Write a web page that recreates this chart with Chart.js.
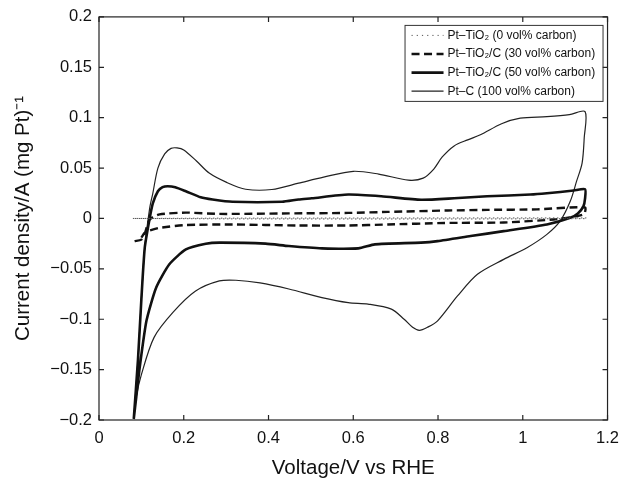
<!DOCTYPE html>
<html>
<head>
<meta charset="utf-8">
<script src="https://cdn.jsdelivr.net/npm/chart.js@4/dist/chart.umd.min.js"></script>
<style>
  html, body { margin: 0; padding: 0; background: #fff; }
  #wrap { width: 628px; height: 481px; }
</style>
</head>
<body>
<div id="wrap"><canvas id="myChart" width="628" height="481"></canvas></div>
<script>
// series labels (legend)
const seriesLabels = [
  'Pt–TiO₂ (0 vol% carbon)',
  'Pt–TiO₂/C (30 vol% carbon)',
  'Pt–TiO₂/C (50 vol% carbon)',
  'Pt–C (100 vol% carbon)',
];

// Pt-TiO2, 0 vol% carbon (dotted)
const pt0V = [0.080, 0.300, 0.600, 0.900, 1.150, 1.150, 0.900, 0.600, 0.300, 0.080];
const pt0I = [0.000, 0.0003, 0.0004, 0.0005, 0.0005, -0.0002, -0.0005, -0.0005, -0.0004, 0.000];

// Pt-TiO2/C, 30 vol% carbon (dashed)
const pt30V = [0.084, 0.100, 0.108, 0.1195, 0.143, 0.205, 0.284, 0.448, 0.588, 0.682, 0.823, 0.916, 1.034, 1.147,
  1.145, 1.125, 1.073, 0.955, 0.815, 0.682, 0.588, 0.471, 0.315, 0.205, 0.143, 0.120, 0.108, 0.100];
const pt30I = [-0.0225, -0.021, -0.015, -0.001, 0.004, 0.0058, 0.0045, 0.005, 0.0055, 0.0065, 0.0079, 0.0085, 0.009, 0.011,
  0.0045, 0.002, -0.001, -0.004, -0.0045, -0.006, -0.007, -0.007, -0.006, -0.0065, -0.0093, -0.012, -0.0142, -0.019];

// Pt-TiO2/C, 50 vol% carbon (thick solid)
const pt50V = [0.082, 0.092, 0.100, 0.108, 0.1195, 0.127, 0.139, 0.150, 0.162, 0.180, 0.205, 0.240, 0.268, 0.315, 0.432,
  0.471, 0.502, 0.588, 0.666, 0.760, 0.838, 0.916, 1.018, 1.057, 1.120, 1.147, 1.147, 1.143, 1.130, 1.112, 1.057, 0.955,
  0.877, 0.799, 0.760, 0.651, 0.612, 0.526, 0.448, 0.393, 0.284, 0.252, 0.205, 0.166, 0.135, 0.112, 0.096, 0.088, 0.082];
const pt50I = [-0.199, -0.140, -0.080, -0.029, 0.000, 0.015, 0.027, 0.031, 0.032, 0.031, 0.027, 0.021, 0.0188, 0.0165, 0.0165,
  0.0188, 0.020, 0.0237, 0.022, 0.0185, 0.020, 0.022, 0.0237, 0.025, 0.0277, 0.029, 0.020, 0.012, 0.005, 0.0006, -0.006, -0.0126,
  -0.0175, -0.0225, -0.024, -0.0257, -0.0297, -0.0297, -0.0274, -0.025, -0.024, -0.0251, -0.0307, -0.0455, -0.0686, -0.1016, -0.148, -0.177, -0.199];

// Pt-C, 100 vol% carbon (thin solid)
const ptcV = [0.082, 0.092, 0.100, 0.108, 0.1195, 0.127, 0.139, 0.155, 0.170, 0.184, 0.200, 0.230, 0.260, 0.300, 0.346, 0.408,
  0.471, 0.530, 0.600, 0.660, 0.730, 0.765, 0.790, 0.810, 0.838, 0.870, 0.900, 0.950, 0.994, 1.057, 1.110, 1.147,
  1.145, 1.140, 1.127, 1.112, 1.088, 1.057, 1.010, 0.955, 0.893, 0.846, 0.799, 0.775, 0.756, 0.740, 0.720, 0.690, 0.635,
  0.588, 0.526, 0.448, 0.380, 0.323, 0.284, 0.228, 0.175, 0.130, 0.100, 0.088, 0.082];
const ptcI = [-0.199, -0.140, -0.080, -0.029, 0.010, 0.025, 0.050, 0.064, 0.0695, 0.070, 0.068, 0.057, 0.045, 0.036, 0.029, 0.0287,
  0.035, 0.041, 0.0468, 0.044, 0.038, 0.040, 0.049, 0.061, 0.072, 0.078, 0.083, 0.094, 0.0995, 0.101, 0.103, 0.106,
  0.080, 0.055, 0.037, 0.017, -0.0027, -0.0158, -0.029, -0.0406, -0.0554, -0.0769, -0.1016, -0.108, -0.111, -0.108, -0.100, -0.090, -0.085,
  -0.0835, -0.0785, -0.070, -0.064, -0.0613, -0.062, -0.072, -0.093, -0.118, -0.155, -0.177, -0.199];

// tick values
const xTicks = [0, 0.2, 0.4, 0.6, 0.8, 1, 1.2];
const yTicks = [-0.2, -0.15, -0.1, -0.05, 0, 0.05, 0.1, 0.15, 0.2];

const pts = (xs, ys) => xs.map((v, i) => ({ x: v, y: ys[i] }));
const FONT = "'Liberation Sans', Arial, Helvetica, sans-serif";
const INK = '#111';

const data = {
  datasets: [
    { label: seriesLabels[0], data: pts(pt0V, pt0I), borderColor: '#555', borderWidth: 1, borderDash: [1.5, 2.5], tension: 0 },
    { label: seriesLabels[1], data: pts(pt30V, pt30I), borderColor: INK, borderWidth: 2.4, borderDash: [8, 4.5], tension: 0.2 },
    { label: seriesLabels[2], data: pts(pt50V, pt50I), borderColor: INK, borderWidth: 2.6, tension: 0.2 },
    { label: seriesLabels[3], data: pts(ptcV, ptcI), borderColor: '#222', borderWidth: 1.2, tension: 0.3 },
  ]
};

// inward ticks on all sides, box frame, and boxed legend inside the plot
const frame = {
  id: 'frame',
  afterDatasetsDraw(chart) {
    const { ctx, chartArea: a, scales: { x, y } } = chart;
    ctx.save();
    ctx.strokeStyle = '#222';
    ctx.lineWidth = 1.2;
    ctx.setLineDash([]);
    ctx.beginPath();
    xTicks.forEach(v => {
      const px = x.getPixelForValue(v);
      ctx.moveTo(px, a.bottom); ctx.lineTo(px, a.bottom - 5);
      ctx.moveTo(px, a.top); ctx.lineTo(px, a.top + 5);
    });
    yTicks.forEach(v => {
      const py = y.getPixelForValue(v);
      ctx.moveTo(a.left, py); ctx.lineTo(a.left + 5, py);
      ctx.moveTo(a.right, py); ctx.lineTo(a.right - 5, py);
    });
    ctx.stroke();
    ctx.strokeRect(a.left, a.top, a.right - a.left, a.bottom - a.top);

    // legend
    const bw = 198, bh = 76;
    const bx = a.right - 5 - bw, by = a.top + 8;
    ctx.fillStyle = '#fff';
    ctx.fillRect(bx, by, bw, bh);
    ctx.lineWidth = 1;
    ctx.strokeStyle = '#333';
    ctx.strokeRect(bx + 0.5, by + 0.5, bw, bh);
    ctx.font = '12px ' + FONT;
    ctx.textBaseline = 'middle';
    ctx.textAlign = 'left';
    chart.data.datasets.forEach((ds, i) => {
      const ry = by + 10.5 + i * 18.6;
      ctx.beginPath();
      ctx.strokeStyle = ds.borderColor;
      ctx.lineWidth = ds.borderWidth;
      ctx.setLineDash(i === 0 ? [1.2, 4] : (ds.borderDash || []));
      ctx.moveTo(bx + 7, ry); ctx.lineTo(bx + 39, ry);
      ctx.stroke();
      ctx.setLineDash([]);
      ctx.fillStyle = INK;
      ctx.fillText(ds.label, bx + 43, ry);
    });
    ctx.restore();
  }
};

const config = {
  type: 'scatter',
  data,
  options: {
    responsive: false,
    animation: false,
    devicePixelRatio: 1,
    showLine: true,
    elements: { point: { radius: 0, hoverRadius: 0 } },
    layout: { padding: { top: 15, right: 17, left: 0, bottom: 0 } },
    plugins: { legend: { display: false }, tooltip: { enabled: false } },
    scales: {
      x: {
        type: 'linear', min: 0, max: 1.2,
        afterFit: s => { s.height = 61; },
        afterBuildTicks: s => { s.ticks = xTicks.map(v => ({ value: v })); },
        grid: { display: false, drawTicks: false },
        border: { display: false },
        ticks: { padding: 9, color: INK, font: { family: FONT, size: 16.5 }, callback: v => String(v) },
        title: { display: true, text: 'Voltage/V vs RHE', color: INK, font: { family: FONT, size: 20.5 }, padding: { top: 0, bottom: 0 } }
      },
      y: {
        type: 'linear', min: -0.2, max: 0.2,
        afterFit: s => { s.width = 99; },
        afterBuildTicks: s => { s.ticks = yTicks.map(v => ({ value: v })); },
        grid: { display: false, drawTicks: false },
        border: { display: false },
        ticks: { padding: 7, color: INK, font: { family: FONT, size: 16.5 }, callback: v => String(v).replace('-', '−') },
        title: { display: true, text: 'Current density/A (mg Pt)⁻¹', color: INK, font: { family: FONT, size: 20.5 }, padding: { top: 11, bottom: 0 } }
      }
    }
  },
  plugins: [frame]
};

const myChart = new Chart(document.getElementById('myChart'), config);
</script>
</body>
</html>
